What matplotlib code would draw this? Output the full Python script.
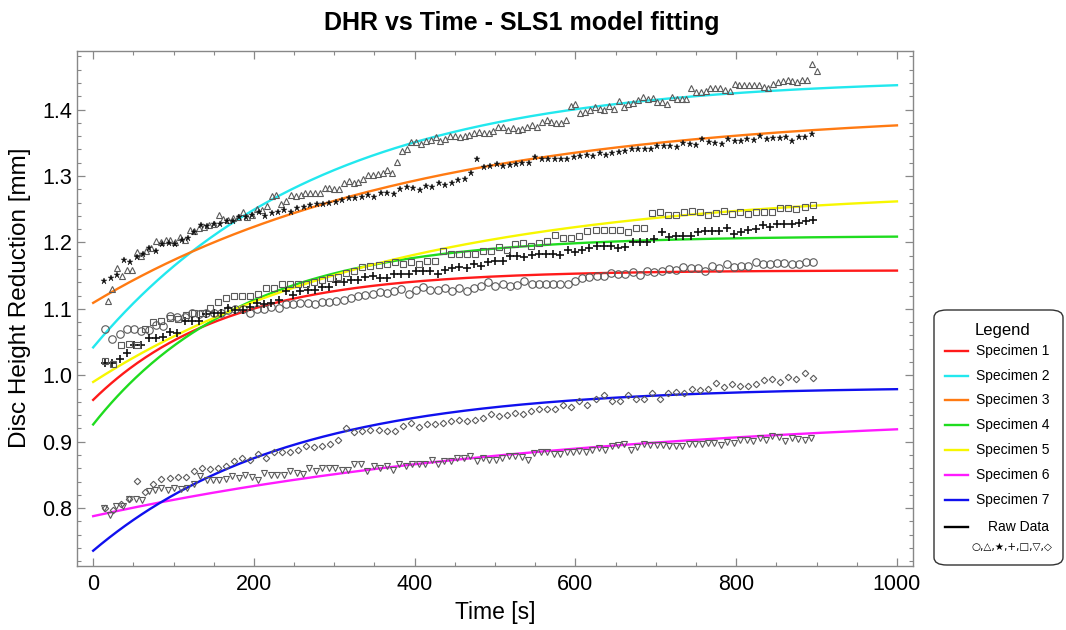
import numpy as np
import matplotlib
matplotlib.use("Agg")
import matplotlib.pyplot as plt
from matplotlib.patches import FancyBboxPatch
from matplotlib.lines import Line2D
from matplotlib.ticker import MultipleLocator

# ---------------- data ----------------
specimens = ["Specimen 1", "Specimen 2", "Specimen 3", "Specimen 4",
             "Specimen 5", "Specimen 6", "Specimen 7"]
fit_colors = ["#ff1a1a", "#22e8ee", "#ff7a12", "#1fdc1f", "#f7f700", "#ff1aff", "#1010ee"]

# SLS1 fitted parameters: start value, asymptote, time constant [s]
fit_y0 = [0.963, 1.042, 1.109, 0.926, 0.990, 0.788, 0.736]
fit_yinf = [1.158, 1.448, 1.400, 1.210, 1.282, 0.950, 0.983]
fit_tau = [164, 280, 400, 186, 375, 608, 241]

# sampling of raw data per specimen: first time, last time [s]
raw_t_first = [15, 18, 14, 15, 15, 13, 15]
raw_t_last = [896, 900, 894, 896, 895, 893, 895]

raw_s1 = [1.070, 1.055, 1.062, 1.070, 1.069, 1.066, 1.068, 1.075, 1.074, 1.089,
          1.088, 1.088, 1.093, 1.092, 1.094, 1.094, 1.094, 1.098, 1.100, 1.100,
          1.093, 1.100, 1.100, 1.103, 1.102, 1.107, 1.108, 1.109, 1.109, 1.108,
          1.111, 1.111, 1.112, 1.113, 1.117, 1.120, 1.121, 1.122, 1.126, 1.124,
          1.127, 1.130, 1.122, 1.128, 1.133, 1.128, 1.129, 1.132, 1.127, 1.132,
          1.127, 1.132, 1.134, 1.141, 1.134, 1.137, 1.134, 1.136, 1.142, 1.137,
          1.138, 1.137, 1.137, 1.138, 1.138, 1.142, 1.146, 1.148, 1.149, 1.149,
          1.154, 1.153, 1.153, 1.156, 1.151, 1.157, 1.155, 1.157, 1.160, 1.159,
          1.163, 1.162, 1.162, 1.157, 1.164, 1.162, 1.167, 1.163, 1.165, 1.165,
          1.171, 1.167, 1.167, 1.169, 1.169, 1.168, 1.168, 1.171, 1.170]

raw_s2 = [1.112, 1.130, 1.161, 1.149, 1.158, 1.158, 1.186, 1.179, 1.187, 1.192,
          1.202, 1.201, 1.203, 1.204, 1.201, 1.208, 1.204, 1.218, 1.217, 1.221,
          1.223, 1.226, 1.228, 1.241, 1.235, 1.233, 1.236, 1.238, 1.246, 1.238,
          1.241, 1.251, 1.249, 1.255, 1.270, 1.271, 1.258, 1.263, 1.272, 1.270,
          1.271, 1.274, 1.275, 1.275, 1.275, 1.282, 1.282, 1.281, 1.281, 1.289,
          1.292, 1.290, 1.291,
          1.295, 1.302, 1.301, 1.303, 1.305, 1.309, 1.304, 1.321, 1.338, 1.340,
          1.351, 1.351, 1.348, 1.353, 1.354, 1.358, 1.353, 1.356, 1.360, 1.360,
          1.359, 1.360, 1.361, 1.365, 1.366, 1.365, 1.365, 1.367, 1.374, 1.374,
          1.369, 1.372, 1.369, 1.371, 1.374, 1.376, 1.374, 1.381, 1.384, 1.381,
          1.380, 1.379, 1.384, 1.405, 1.408, 1.395, 1.396, 1.399, 1.404, 1.401,
          1.399, 1.406, 1.401, 1.413, 1.404, 1.409, 1.410, 1.414,
          1.419, 1.416, 1.417, 1.411, 1.412, 1.409, 1.419, 1.416, 1.416, 1.416,
          1.432, 1.426, 1.426, 1.428, 1.433, 1.433, 1.433, 1.430, 1.428, 1.438,
          1.437, 1.437, 1.437, 1.437, 1.437, 1.434, 1.433, 1.438, 1.441, 1.443,
          1.445, 1.443, 1.442, 1.444, 1.445, 1.468, 1.458]

raw_s3 = [1.142, 1.146, 1.151, 1.174, 1.170, 1.178, 1.182, 1.191, 1.187, 1.198,
          1.199, 1.198, 1.204, 1.206, 1.216, 1.226, 1.225, 1.228, 1.227, 1.232,
          1.232, 1.238, 1.238, 1.241, 1.246, 1.240, 1.244, 1.246, 1.249, 1.246,
          1.252, 1.254, 1.257, 1.258, 1.258, 1.260, 1.261, 1.264, 1.267, 1.267,
          1.269, 1.271, 1.269, 1.274, 1.275, 1.273, 1.281, 1.283, 1.282, 1.279,
          1.285, 1.284, 1.289, 1.286, 1.289, 1.294, 1.295, 1.305, 1.326, 1.313,
          1.315, 1.318, 1.315, 1.316, 1.318, 1.319, 1.320, 1.329, 1.326, 1.326,
          1.326, 1.326, 1.325, 1.329, 1.330, 1.332, 1.330, 1.334, 1.331, 1.335,
          1.336, 1.338, 1.340, 1.341,
          1.341, 1.341, 1.345, 1.345, 1.345, 1.344, 1.350, 1.348, 1.346, 1.355,
          1.351, 1.349, 1.348, 1.355, 1.352, 1.352, 1.355, 1.354, 1.360, 1.355,
          1.357, 1.357, 1.359, 1.352, 1.358, 1.359, 1.363]

raw_s4 = [1.019, 1.018, 1.025, 1.033, 1.046, 1.046, 1.056, 1.056, 1.058, 1.065,
          1.063, 1.081, 1.082, 1.081, 1.092, 1.093, 1.093, 1.101, 1.099, 1.099,
          1.103, 1.109, 1.107, 1.109, 1.113, 1.127, 1.121, 1.127, 1.128, 1.128,
          1.133, 1.133, 1.141, 1.140, 1.144, 1.144,
          1.148, 1.149, 1.146, 1.146, 1.152, 1.152, 1.152, 1.157, 1.157, 1.157,
          1.153, 1.159, 1.162, 1.163, 1.161, 1.167, 1.164, 1.170, 1.172, 1.172,
          1.179, 1.179, 1.178, 1.181, 1.182, 1.182, 1.183, 1.181, 1.188, 1.186,
          1.188, 1.191, 1.194, 1.194, 1.194, 1.192, 1.193, 1.201,
          1.201, 1.201, 1.205, 1.216, 1.208, 1.210, 1.210, 1.210, 1.215, 1.217,
          1.217, 1.217, 1.221, 1.212, 1.216, 1.219, 1.220, 1.226, 1.223, 1.227,
          1.227, 1.227, 1.229, 1.232, 1.233]

raw_s5 = [1.021, 1.017, 1.045, 1.047, 1.045, 1.070, 1.080, 1.081, 1.086, 1.084,
          1.091, 1.093, 1.094, 1.101, 1.111, 1.117, 1.119, 1.120, 1.120, 1.122,
          1.131, 1.132, 1.138, 1.137, 1.137, 1.137, 1.141, 1.143, 1.146, 1.148,
          1.154, 1.157, 1.163, 1.165, 1.166, 1.167, 1.170, 1.167, 1.171, 1.167,
          1.172, 1.172, 1.187, 1.182, 1.182, 1.183, 1.183, 1.187, 1.187, 1.193,
          1.188, 1.198, 1.199, 1.195, 1.199, 1.202, 1.211, 1.207, 1.207, 1.210,
          1.217, 1.218, 1.218, 1.218, 1.219, 1.216, 1.221, 1.222, 1.244, 1.245,
          1.241, 1.241, 1.246, 1.247, 1.245, 1.241, 1.244, 1.248, 1.242, 1.245,
          1.243, 1.245, 1.246, 1.246, 1.252, 1.252, 1.250, 1.254, 1.256]

raw_s6 = [0.800, 0.790, 0.803, 0.803, 0.814, 0.814, 0.813, 0.826, 0.828, 0.831,
          0.828, 0.830, 0.829, 0.831, 0.837, 0.848, 0.843, 0.843, 0.842, 0.844,
          0.848, 0.846, 0.850, 0.847, 0.843, 0.853, 0.850, 0.850, 0.850, 0.856,
          0.853, 0.852, 0.860, 0.856, 0.860, 0.860, 0.861, 0.857, 0.858, 0.866,
          0.866, 0.856, 0.863, 0.861, 0.863, 0.858, 0.867, 0.863, 0.867, 0.867,
          0.867, 0.872, 0.866, 0.871, 0.871, 0.876, 0.876, 0.878, 0.871, 0.876,
          0.873, 0.873, 0.876, 0.878, 0.879, 0.877, 0.873, 0.883, 0.885, 0.885,
          0.881, 0.882, 0.885, 0.885, 0.886, 0.885, 0.887, 0.891, 0.888, 0.893,
          0.895, 0.896, 0.888, 0.892, 0.896, 0.895, 0.895, 0.895, 0.894, 0.894,
          0.894, 0.896, 0.896, 0.896, 0.898, 0.898, 0.895, 0.900, 0.898, 0.902,
          0.903, 0.901, 0.905, 0.902, 0.909, 0.907, 0.901, 0.906, 0.904, 0.903,
          0.905]

raw_s7 = [0.800, 0.797, 0.806, 0.814, 0.841, 0.825, 0.837, 0.844, 0.845, 0.847,
          0.847, 0.856, 0.861, 0.859, 0.861, 0.863, 0.871, 0.875, 0.873, 0.882,
          0.876, 0.885, 0.885, 0.884, 0.887, 0.894, 0.892, 0.893, 0.896, 0.903,
          0.920, 0.914, 0.916, 0.918, 0.917, 0.916, 0.916, 0.924, 0.928, 0.922,
          0.926, 0.926, 0.928, 0.931, 0.932, 0.931, 0.933, 0.936, 0.941, 0.938,
          0.940, 0.944, 0.942, 0.946, 0.949, 0.950, 0.950, 0.955, 0.953, 0.962,
          0.956, 0.964, 0.970, 0.962, 0.962, 0.970, 0.965, 0.965, 0.973, 0.965,
          0.974, 0.975, 0.973, 0.979, 0.978, 0.979, 0.988, 0.983, 0.987, 0.984,
          0.984, 0.987, 0.993, 0.994, 0.990, 0.997, 0.994, 1.004, 0.996]

raw_series = [raw_s1, raw_s2, raw_s3, raw_s4, raw_s5, raw_s6, raw_s7]
raw_markers = ["o", "^", "*", "+", "s", "v", "D"]

x_ticks = [0, 200, 400, 600, 800, 1000]
y_ticks = [0.8, 0.9, 1.0, 1.1, 1.2, 1.3, 1.4]

# ---------------- figure ----------------
plt.rcParams["font.family"] = ["Liberation Sans", "DejaVu Sans"]
fig = plt.figure(figsize=(10.66, 6.30), dpi=100)
ax = fig.add_axes([0.0727, 0.1016, 0.7838, 0.8174])

t_fit = np.linspace(0, 1000, 400)
for y0, yinf, tau, col in zip(fit_y0, fit_yinf, fit_tau, fit_colors):
    ax.plot(t_fit, yinf - (yinf - y0) * np.exp(-t_fit / tau), color=col, lw=1.7, zorder=2)

marker_kw = {
    "o": dict(ms=5.4, mfc="none", mec="#5a5a5a", mew=0.8),
    "^": dict(ms=4.8, mfc="none", mec="#5a5a5a", mew=0.8),
    "*": dict(ms=4.8, mfc="#111111", mec="#111111", mew=0.3),
    "+": dict(ms=5.5, mfc="none", mec="#111111", mew=1.2),
    "s": dict(ms=3.9, mfc="none", mec="#5a5a5a", mew=0.8),
    "v": dict(ms=4.6, mfc="none", mec="#5a5a5a", mew=0.8),
    "D": dict(ms=3.3, mfc="none", mec="#5a5a5a", mew=0.8),
}
for vals, mk, t0, t1 in zip(raw_series, raw_markers, raw_t_first, raw_t_last):
    tt = np.linspace(t0, t1, len(vals))
    ax.plot(tt, vals, linestyle="none", marker=mk, zorder=3, **marker_kw[mk])

ax.set_xlim(-19.5, 1020)
ax.set_ylim(0.713, 1.488)
ax.set_xticks(x_ticks)
ax.set_yticks(y_ticks)
ax.set_yticklabels([f"{v:.1f}" for v in y_ticks])
ax.xaxis.set_minor_locator(MultipleLocator(50))
ax.yaxis.set_minor_locator(MultipleLocator(0.02))
ax.tick_params(which="both", direction="in", top=True, right=True, color="#888888")
ax.tick_params(which="major", length=5.5, width=0.9, labelsize=15.5, pad=6)
ax.tick_params(which="minor", length=3, width=0.8)
ax.tick_params(axis="y", which="major", pad=4)
for sp in ax.spines.values():
    sp.set_color("#888888")
    sp.set_linewidth(1.0)

ax.set_xlabel("Time [s]", fontsize=16.5, labelpad=4)
ax.set_ylabel("Disc Height Reduction [mm]", fontsize=17.5)
ax.yaxis.set_label_coords(-0.056, 0.52)

fig.text(0.489, 0.963, "DHR vs Time - SLS1 model fitting", ha="center", va="center",
         fontsize=18, fontweight="bold", family=["Liberation Sans", "DejaVu Sans"])

# ---------------- legend ----------------
W, H = 1066.0, 630.0
def fx(px):
    return px / W
def fy(py):
    return 1 - py / H

box = FancyBboxPatch((fx(934), fy(565)), fx(1063) - fx(934), fy(310) - fy(565),
                     boxstyle="round,pad=0,rounding_size=0.012", transform=fig.transFigure,
                     facecolor="white", edgecolor="#333333", lw=1.0)
fig.patches.append(box)
fig.text(fx(1002), fy(330), "Legend", ha="center", va="center", fontsize=12)
row_y = [351, 376, 400, 425, 450, 475, 500]
for name, col, yy in zip(specimens, fit_colors, row_y):
    fig.lines.append(Line2D([fx(945), fx(968)], [fy(yy), fy(yy)], color=col, lw=1.7,
                            transform=fig.transFigure))
    fig.text(fx(976), fy(yy), name, ha="left", va="center", fontsize=10)
fig.lines.append(Line2D([fx(945), fx(968)], [fy(527), fy(527)], color="black", lw=1.7,
                        transform=fig.transFigure))
fig.text(fx(988), fy(527), "Raw Data", ha="left", va="center", fontsize=10)
fig.text(fx(1012), fy(547), "○,△,★,+,□,▽,◇", ha="center", va="center", fontsize=7.5,
         family=["DejaVu Sans"])

fig.savefig("out.png", dpi=100)
